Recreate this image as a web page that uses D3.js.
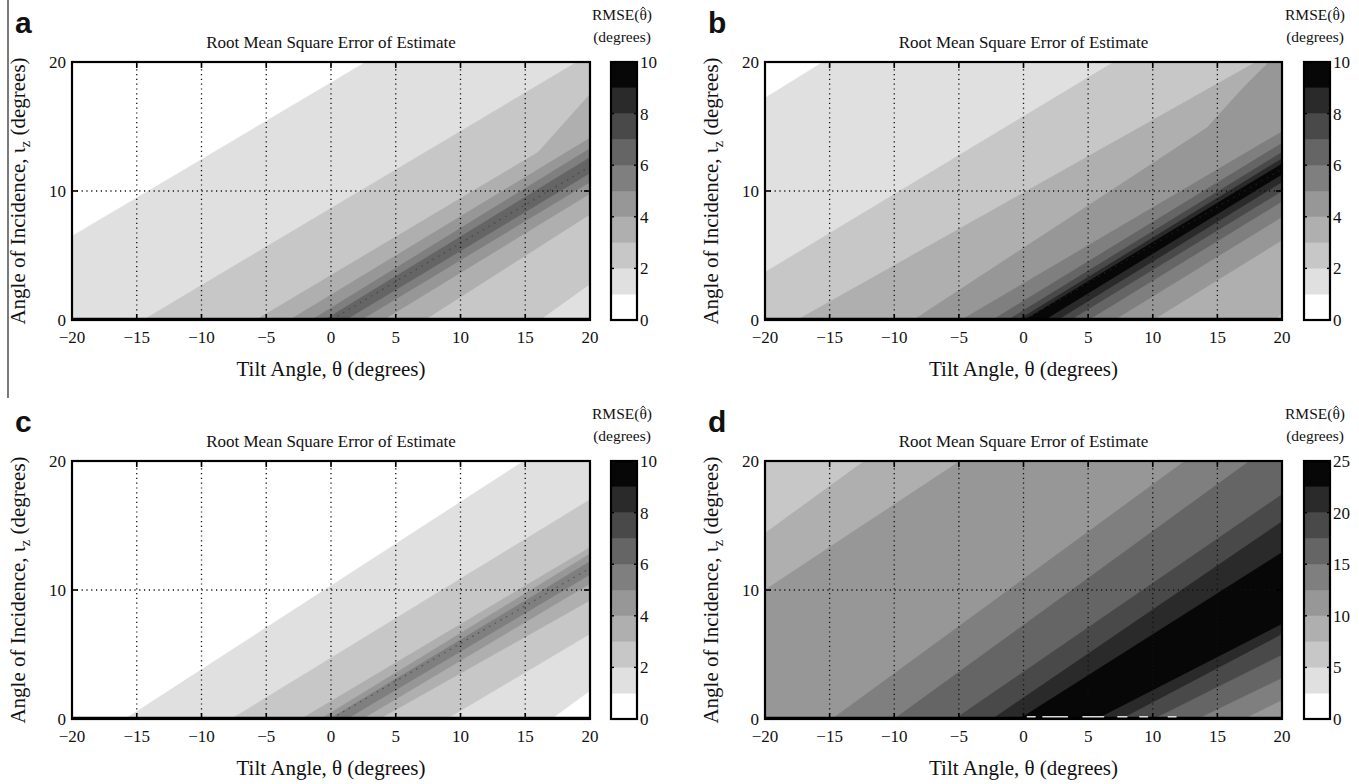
<!DOCTYPE html>
<html><head><meta charset="utf-8">
<script src="https://cdn.jsdelivr.net/npm/d3@7"></script>
<style>
body{margin:0;background:#fff}
svg{display:block}
text{font-family:"Liberation Serif","Times New Roman",serif;fill:#111}
</style>
</head><body>
<svg id="chart" width="1359" height="784"></svg>
<script>
// ---------- data ----------
const thetaTicks = [-20, -15, -10, -5, 0, 5, 10, 15, 20];
const iotaTicks = [0, 10, 20];
const gridTheta = [-15, -10, -5, 0, 5, 10, 15];
const gridIota = [10];
const bandsTen = [0, 1, 2, 3, 4, 5, 6, 7, 8, 9, 10];
const bandsTwentyFive = [0, 2.5, 5, 7.5, 10, 12.5, 15, 17.5, 20, 22.5, 25];
const cbTicksTen = [0, 2, 4, 6, 8, 10];
const cbTicksTwentyFive = [0, 5, 10, 15, 20, 25];
const grayShades = ['#ffffff', '#e0e0e0', '#c7c7c7', '#afafaf', '#979797', '#7f7f7f', '#656565', '#494949', '#2a2a2a', '#070707'];

// contour boundaries: [theta, iota] points.
// index = band level; "upper" = boundary on the upper-left side of the ridge, "lower" = lower-right side
const aUpper = [null,
  [[-20, 6.5], [2.7, 20]],
  [[-14.5, 0], [19, 20]],
  [[-5.8, 0], [16, 13], [20, 17.5]],
  [[-3.2, 0], [20, 14.1]],
  [[-1.5, 0], [20, 13.3]],
  [[-0.5, 0], [20, 12.6]]];
const aLower = [null,
  null,
  [[16.1, 0], [20, 2.8]],
  [[7.2, 0], [20, 8.2]],
  [[4.0, 0], [20, 9.8]],
  [[2.3, 0], [20, 10.7]],
  [[1.1, 0], [20, 11.4]]];
const aRidge = [[0.5, 0.3], [20, 11.9]];

const bUpper = [null,
  [[-20, 17.2], [-15.5, 20]],
  [[-20, 3.7], [7.0, 20]],
  [[-17.5, 0], [18, 20]],
  [[-8.5, 0], [14.2, 14.9], [17, 18], [19, 20]],
  [[-4.8, 0], [20, 14.6]],
  [[-2.4, 0], [20, 13.7]],
  [[-1.2, 0], [20, 13.0]],
  [[-0.4, 0], [20, 12.5]],
  [[0.1, 0], [20, 12.1]]];
const bLower = [null,
  null,
  null,
  [[19.5, 0], [20, 0.6]],
  [[10, 0], [20, 6.2]],
  [[7.0, 0], [20, 8.0]],
  [[5.0, 0], [20, 9.2]],
  [[3.6, 0], [20, 10.0]],
  [[2.6, 0], [20, 10.7]],
  [[1.6, 0], [20, 11.3]]];
const bRidge = [[0.6, 0.3], [20, 11.7]];

const cUpper = [null,
  [[-15.9, 0], [14.9, 20]],
  [[-7.7, 0], [20, 17]],
  [[-2.3, 0], [20, 13.3]],
  [[-0.8, 0], [20, 12.8]],
  [[-0.1, 0], [20, 12.2]]];
const cLower = [null,
  [[17, 0], [20, 2.2]],
  [[8.9, 0], [20, 6.6]],
  [[3.7, 0], [20, 9.2]],
  [[2.4, 0], [20, 10.5]],
  [[1.2, 0], [20, 11.2]]];
const cRidge = [[0.5, 0.3], [20, 11.7]];

const dUpper = [null, null, null,
  [[-20, 14.4], [-12.3, 20]],
  [[-20, 10], [-4.9, 20]],
  [[-14.8, 0], [12.5, 20]],
  [[-10, 0], [17.5, 20]],
  [[-5.3, 0], [20, 17.4]],
  [[-2.4, 0], [20, 15.3]],
  [[-0.3, 0], [20, 12.9]]];
const dLower = [null, null, null,
  null,
  null,
  [[17, 0], [20, 1.5]],
  [[13.4, 0], [20, 3.2]],
  [[10, 0], [20, 5.0]],
  [[7.5, 0], [20, 6.6]],
  [[5.6, 0], [20, 7.4]]];
// white specks on the bottom row of panel d: [theta start, theta end]
const dBottomSpecks = [[0.3, 0.9], [1.5, 3.4], [4.6, 6.2], [7.3, 8.0], [9.0, 9.6], [11.2, 11.8]];

// ---------- layout ----------
const panels = [
  {letter: 'a', left: 72, right: 590, top: 62, bottom: 320, cbL: 611, cbR: 637, base: 0,
   upper: aUpper, lower: aLower, ridge: aRidge, specks: null, bands: bandsTen, cbTicks: cbTicksTen},
  {letter: 'b', left: 765, right: 1282, top: 62, bottom: 320, cbL: 1304, cbR: 1330, base: 0,
   upper: bUpper, lower: bLower, ridge: bRidge, specks: null, bands: bandsTen, cbTicks: cbTicksTen},
  {letter: 'c', left: 72, right: 590, top: 461, bottom: 719, cbL: 611, cbR: 637, base: 0,
   upper: cUpper, lower: cLower, ridge: cRidge, specks: null, bands: bandsTen, cbTicks: cbTicksTen},
  {letter: 'd', left: 765, right: 1282, top: 461, bottom: 719, cbL: 1304, cbR: 1330, base: 2,
   upper: dUpper, lower: dLower, ridge: null, specks: dBottomSpecks, bands: bandsTwentyFive, cbTicks: cbTicksTwentyFive}
];

const svg = d3.select('#chart');

function extend(pts) {
  const n = pts.length;
  const a = pts[0], b = pts[1], c = pts[n - 2], d = pts[n - 1];
  const s0 = (b[1] - a[1]) / (b[0] - a[0]);
  const s1 = (d[1] - c[1]) / (d[0] - c[0]);
  const L = -80, R = 80;
  return [[L, a[1] + s0 * (L - a[0])]].concat(pts, [[R, d[1] + s1 * (R - d[0])]]);
}

svg.append('line').attr('x1', 8).attr('x2', 8).attr('y1', 0).attr('y2', 398)
  .attr('stroke', '#222').attr('stroke-width', 1.2);

panels.forEach(p => {
  const g = svg.append('g');
  const x = d3.scaleLinear([-20, 20], [p.left, p.right]);
  const y = d3.scaleLinear([0, 20], [p.bottom, p.top]);
  const line = d3.line().x(d => x(d[0])).y(d => y(d[1]));
  const clipId = 'clip-' + p.letter;
  svg.append('clipPath').attr('id', clipId).append('rect')
    .attr('x', p.left).attr('y', p.top).attr('width', p.right - p.left).attr('height', p.bottom - p.top);
  const field = g.append('g').attr('clip-path', `url(#${clipId})`);
  field.append('rect').attr('x', p.left).attr('y', p.top).attr('width', p.right - p.left)
    .attr('height', p.bottom - p.top).attr('fill', grayShades[p.base]);
  const big = 200;
  for (let k = p.base + 1; k < p.upper.length; k++) {
    const up = p.upper[k] ? extend(p.upper[k]) : [[-80, big], [80, big]];
    const lo = p.lower[k] ? extend(p.lower[k]) : [[-80, -big], [80, -big]];
    const poly = up.concat(lo.slice().reverse());
    field.append('path').attr('d', line(poly) + 'Z')
      .attr('fill', grayShades[k]).attr('stroke', grayShades[k]).attr('stroke-width', 0.6);
  }
  if (p.ridge) {
    field.append('path').attr('d', line(p.ridge)).attr('fill', 'none')
      .attr('stroke', '#333').attr('stroke-opacity', 0.55).attr('stroke-width', 1.3)
      .attr('stroke-dasharray', '1.5,5');
  }
  // grid
  g.selectAll('.gx').data(gridTheta).join('line')
    .attr('x1', d => x(d)).attr('x2', d => x(d)).attr('y1', p.bottom).attr('y2', p.top)
    .attr('stroke', '#111').attr('stroke-width', 1.3).attr('stroke-dasharray', '1.2,3.6');
  g.selectAll('.gy').data(gridIota).join('line')
    .attr('x1', p.left).attr('x2', p.right).attr('y1', d => y(d)).attr('y2', d => y(d))
    .attr('stroke', '#111').attr('stroke-width', 1.3).attr('stroke-dasharray', '1.2,3.6');
  // ticks (inward)
  const tl = 6;
  g.selectAll('.tb').data(thetaTicks).join('line')
    .attr('x1', d => x(d)).attr('x2', d => x(d)).attr('y1', p.bottom).attr('y2', p.bottom - tl)
    .attr('stroke', '#000').attr('stroke-width', 1.6);
  g.selectAll('.tt').data(thetaTicks).join('line')
    .attr('x1', d => x(d)).attr('x2', d => x(d)).attr('y1', p.top).attr('y2', p.top + tl)
    .attr('stroke', '#000').attr('stroke-width', 1.6);
  g.selectAll('.tl').data(iotaTicks).join('line')
    .attr('x1', p.left).attr('x2', p.left + tl).attr('y1', d => y(d)).attr('y2', d => y(d))
    .attr('stroke', '#000').attr('stroke-width', 1.6);
  g.selectAll('.tr').data(iotaTicks).join('line')
    .attr('x1', p.right).attr('x2', p.right - tl).attr('y1', d => y(d)).attr('y2', d => y(d))
    .attr('stroke', '#000').attr('stroke-width', 1.6);
  // frame
  g.append('rect').attr('x', p.left).attr('y', p.top).attr('width', p.right - p.left)
    .attr('height', p.bottom - p.top).attr('fill', 'none').attr('stroke', '#000').attr('stroke-width', 2.2);
  g.append('line').attr('x1', p.left).attr('x2', p.right).attr('y1', y(0) - 1).attr('y2', y(0) - 1)
    .attr('stroke', '#000').attr('stroke-width', 2.5);
  if (p.specks) {
    g.selectAll('.sp').data(p.specks).join('line')
      .attr('x1', d => x(d[0])).attr('x2', d => x(d[1])).attr('y1', y(0) - 2.3).attr('y2', y(0) - 2.3)
      .attr('stroke', '#dcdcdc').attr('stroke-width', 1.5).attr('stroke-linecap', 'round');
  }
  // tick labels
  g.selectAll('.xl').data(thetaTicks).join('text')
    .attr('x', d => x(d)).attr('y', p.bottom + 23).attr('text-anchor', 'middle')
    .attr('font-size', 17).text(d => d < 0 ? '\u2212' + Math.abs(d) : d);
  g.selectAll('.yl').data(iotaTicks).join('text')
    .attr('x', p.left - 6).attr('y', d => y(d) + 6).attr('text-anchor', 'end')
    .attr('font-size', 17).text(d => d);
  // titles
  const cx = (p.left + p.right) / 2;
  g.append('text').attr('x', cx).attr('y', p.top - 14).attr('text-anchor', 'middle')
    .attr('font-size', 17).text('Root Mean Square Error of Estimate');
  g.append('text').attr('x', cx).attr('y', p.bottom + 56).attr('text-anchor', 'middle')
    .attr('font-size', 21).text('Tilt Angle, \u03b8 (degrees)');
  const yl = g.append('text')
    .attr('transform', `translate(${p.left - 47},${(p.top + p.bottom) / 2}) rotate(-90)`)
    .attr('text-anchor', 'middle').attr('font-size', 21);
  yl.append('tspan').text('Angle of Incidence, \u03b9');
  yl.append('tspan').attr('font-size', 15).attr('dy', 5).text('z');
  yl.append('tspan').attr('dy', -5).text(' (degrees)');
  // panel letter
  g.append('text').attr('x', p.left - 57).attr('y', p.top - 29)
    .style('font-family', '"Liberation Sans", Arial, sans-serif').attr('font-weight', 'bold')
    .attr('font-size', 30).text(p.letter);
  // colorbar
  const maxV = p.bands[p.bands.length - 1];
  const cy = d3.scaleLinear([0, maxV], [p.bottom, p.top]);
  const cb = g.append('g');
  for (let i = 0; i < p.bands.length - 1; i++) {
    cb.append('rect').attr('x', p.cbL).attr('width', p.cbR - p.cbL)
      .attr('y', cy(p.bands[i + 1])).attr('height', cy(p.bands[i]) - cy(p.bands[i + 1]))
      .attr('fill', grayShades[i]).attr('stroke', grayShades[i]).attr('stroke-width', 0.4);
  }
  cb.selectAll('.ct').data(p.cbTicks).join('line')
    .attr('x1', p.cbL).attr('x2', p.cbL + 3).attr('y1', d => cy(d)).attr('y2', d => cy(d))
    .attr('stroke', '#000').attr('stroke-width', 1.4);
  cb.selectAll('.ct2').data(p.cbTicks).join('line')
    .attr('x1', p.cbR).attr('x2', p.cbR - 3).attr('y1', d => cy(d)).attr('y2', d => cy(d))
    .attr('stroke', '#000').attr('stroke-width', 1.4);
  cb.append('rect').attr('x', p.cbL).attr('y', p.top).attr('width', p.cbR - p.cbL)
    .attr('height', p.bottom - p.top).attr('fill', 'none').attr('stroke', '#000').attr('stroke-width', 2.2);
  cb.selectAll('.cl').data(p.cbTicks).join('text')
    .attr('x', p.cbR + 3).attr('y', d => cy(d) + 6).attr('font-size', 17).text(d => d);
  const ccx = (p.cbL + p.cbR) / 2 - 2;
  // colorbar title; the hat over theta is drawn as a small stroke mark
  const rt = cb.append('text').attr('x', ccx).attr('y', p.top - 42).attr('text-anchor', 'middle')
    .attr('font-size', 15.5).text('RMSE(\u03b8)');
  const ext = rt.node().getExtentOfChar(5);
  const hx = ext.x + ext.width / 2, hy = ext.y + 1.5;
  cb.append('path').attr('d', `M${hx - 2.3},${hy + 2.2}L${hx},${hy - 0.6}L${hx + 2.3},${hy + 2.2}`)
    .attr('fill', 'none').attr('stroke', '#111').attr('stroke-width', 0.9);
  cb.append('text').attr('x', ccx).attr('y', p.top - 20).attr('text-anchor', 'middle')
    .attr('font-size', 15.5).text('(degrees)');
});
</script>
</body></html>
